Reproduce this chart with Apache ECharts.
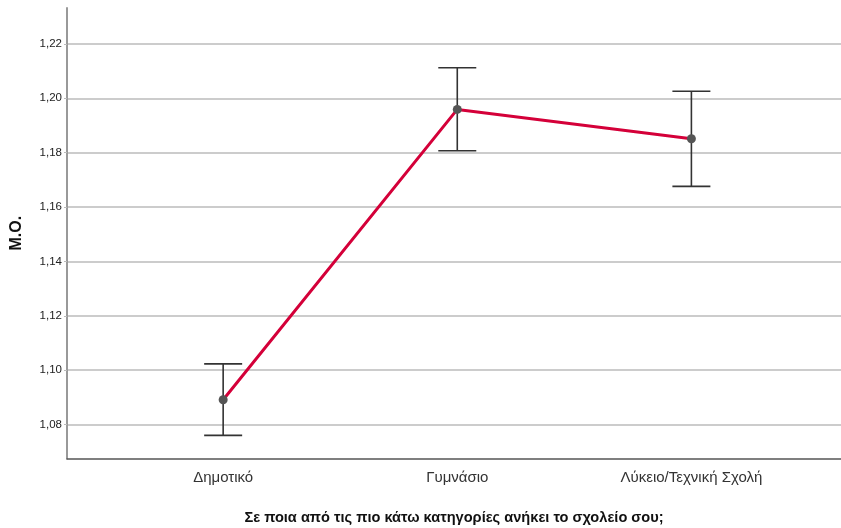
<!DOCTYPE html>
<html><head><meta charset="utf-8">
<script src="https://cdn.jsdelivr.net/npm/echarts@6/dist/echarts.min.js"></script>
<style>html,body{margin:0;padding:0;background:#fff}#c{width:841px;height:528px}</style>
</head><body><div id="c"></div>
<script>
const categories = ['Δημοτικό', 'Γυμνάσιο', 'Λύκειο/Τεχνική Σχολή'];
const means = [1.0891, 1.1959, 1.1851];
const lower = [1.0760, 1.1807, 1.1676];
const upper = [1.1023, 1.2112, 1.2026];
const yTicks = [1.08, 1.10, 1.12, 1.14, 1.16, 1.18, 1.20, 1.22];
const yName = 'M.O.';
const xName = 'Σε ποια από τις πιο κάτω κατηγορίες ανήκει το σχολείο σου;';

const font = 'Arial, "Liberation Sans", sans-serif';
const chart = echarts.init(document.getElementById('c'), null, {renderer: 'canvas'});
const idx = categories.map((_, i) => i);
chart.setOption({
  animation: false,
  grid: {left: 67, right: 0, top: 8, bottom: 69.5, containLabel: false, outerBoundsMode: 'none'},
  xAxis: {
    type: 'value', min: -0.667, max: 2.639,
    axisLine: {show: true, onZero: false, lineStyle: {color: '#555', width: 1.5}},
    axisTick: {show: false},
    splitLine: {show: false},
    axisLabel: {customValues: idx, formatter: v => categories[Math.round(v)] || '',
      color: '#333', fontSize: 15, fontFamily: font, margin: 12},
    name: xName, nameLocation: 'middle', nameGap: 52,
    nameTextStyle: {fontFamily: font, fontWeight: 'bold', fontSize: 14.6, color: '#111'}
  },
  yAxis: {
    type: 'value', min: 1.0675, max: 1.2332,
    axisLine: {show: true, onZero: false, lineStyle: {color: '#999', width: 2}},
    axisTick: {show: true, customValues: yTicks, length: 3, lineStyle: {color: '#bbb'}},
    splitLine: {show: true, lineStyle: {color: '#ccc', width: 2}},
    axisLabel: {customValues: yTicks, formatter: v => v.toFixed(2).replace('.', ','),
      color: '#222', fontSize: 11.5, fontFamily: font, margin: 5},
    name: yName, nameLocation: 'middle', nameGap: 42, nameRotate: 90,
    nameTextStyle: {fontFamily: font, fontWeight: 'bold', fontSize: 16, color: '#111'}
  },
  series: [
    {
      type: 'custom', z: 2,
      data: idx.map(i => [i, lower[i], upper[i]]),
      renderItem: (params, api) => {
        const x = api.value(0);
        const lo = api.coord([x, api.value(1)]);
        const hi = api.coord([x, api.value(2)]);
        const hw = 19;
        const st = {stroke: '#333', lineWidth: 1.6};
        return {type: 'group', children: [
          {type: 'line', shape: {x1: lo[0], y1: lo[1], x2: hi[0], y2: hi[1]}, style: st},
          {type: 'line', shape: {x1: lo[0]-hw, y1: lo[1], x2: lo[0]+hw, y2: lo[1]}, style: st},
          {type: 'line', shape: {x1: hi[0]-hw, y1: hi[1], x2: hi[0]+hw, y2: hi[1]}, style: st}
        ]};
      }
    },
    {
      type: 'line', z: 3,
      data: idx.map(i => [i, means[i]]),
      lineStyle: {color: '#d40039', width: 3},
      symbol: 'circle', symbolSize: 9,
      itemStyle: {color: '#555', borderWidth: 0}
    }
  ]
});
</script></body></html>
